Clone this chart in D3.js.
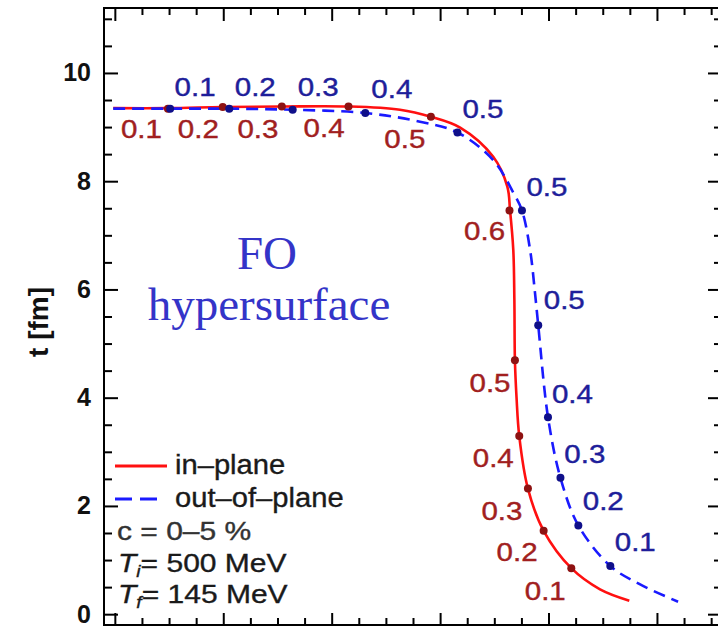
<!DOCTYPE html>
<html>
<head>
<meta charset="utf-8">
<script src="https://cdn.jsdelivr.net/npm/d3@7/dist/d3.min.js"></script>
<style>
  html, body { margin: 0; padding: 0; background: #fff; }
  svg { display: block; }
</style>
</head>
<body>
<svg id="chart" width="718" height="629"></svg>
<script>
// ---------------- data ----------------
// in-plane freeze-out curve (r [fm], t [fm])
const inPlaneR = [-0.03, 0.98, 1.99, 3.08, 4.31, 5.26, 5.83, 6.37, 6.98, 7.24, 7.29, 7.35, 7.37, 7.38, 7.41, 7.46, 7.62, 7.91, 8.42, 8.95, 9.49];
const inPlaneT = [9.35, 9.35, 9.37, 9.38, 9.38, 9.32, 9.19, 8.99, 8.45, 7.90, 7.46, 6.73, 5.81, 4.69, 4.00, 3.29, 2.32, 1.54, 0.85, 0.46, 0.25];
// out-of-plane freeze-out curve
const outPlaneR = [-0.03, 1.02, 2.11, 3.28, 4.62, 5.63, 6.32, 6.98, 7.35, 7.51, 7.66, 7.75, 7.81, 7.99, 8.22, 8.55, 9.14, 9.69, 10.39];
const outPlaneT = [9.34, 9.34, 9.34, 9.32, 9.26, 9.10, 8.90, 8.39, 7.79, 7.46, 6.73, 5.94, 5.34, 3.64, 2.52, 1.64, 0.89, 0.55, 0.23];

// marked points (flow velocity values) on each curve
const inMarkR = [0.98, 1.99, 3.08, 4.31, 5.83, 7.28, 7.38, 7.46, 7.62, 7.91, 8.42];
const inMarkT = [9.34, 9.37, 9.38, 9.38, 9.19, 7.46, 4.69, 3.29, 2.32, 1.54, 0.85];
const inMarkText = ["0.1", "0.2", "0.3", "0.4", "0.5", "0.6", "0.5", "0.4", "0.3", "0.2", "0.1"];
const inLabelR = [0.49, 1.54, 2.64, 3.86, 5.35, 6.82, 6.92, 6.98, 7.14, 7.42, 7.94];
const inLabelT = [8.95, 8.95, 8.95, 8.97, 8.78, 7.07, 4.26, 2.88, 1.90, 1.14, 0.42];

const outMarkR = [1.02, 2.11, 3.28, 4.62, 6.32, 7.51, 7.81, 7.99, 8.22, 8.55, 9.14];
const outMarkT = [9.34, 9.34, 9.32, 9.26, 8.90, 7.46, 5.34, 3.64, 2.52, 1.64, 0.89];
const outMarkText = ["0.1", "0.2", "0.3", "0.4", "0.5", "0.5", "0.5", "0.4", "0.3", "0.2", "0.1"];
const outLabelR = [1.48, 2.59, 3.75, 5.11, 6.79, 7.97, 8.29, 8.44, 8.67, 9.01, 9.60];
const outLabelT = [9.73, 9.73, 9.73, 9.69, 9.32, 7.88, 5.79, 4.06, 2.95, 2.08, 1.33];

const yTickValues = [0, 2, 4, 6, 8, 10];
const xTickValues = [0, 2, 4, 6, 8, 10];
const minorTickValues = d3.range(-0.0, 11.01, 0.5).filter(v => v % 2 !== 0);
const legendLabels = ["in\u2013plane", "out\u2013of\u2013plane"];
const axisTitle = "t [fm]";

// ---------------- layout ----------------
const svg = d3.select("#chart");
const L = 104, R = 722, T = 8, B = 625;
const x = d3.scaleLinear().domain([-0.2, 11.2]).range([L, R]);
const y = d3.scaleLinear().domain([-0.2, 11.2]).range([B, T]);

const RED = "#ff1010", BLUE = "#1a1aff";
const RED_DOT = "#8e1212", BLUE_DOT = "#0f0f8a";
const RED_LAB = "#a11f1f", BLUE_LAB = "#1e1e9a";
const FONT = "'Liberation Sans', Arial, Helvetica, sans-serif";

// ---------------- axes (ticks inside) ----------------
function styleAxis(g) {
  g.select(".domain").remove();
  g.selectAll(".tick line").attr("stroke", "#000").attr("stroke-width", 2);
}
// left
svg.append("g").attr("transform", `translate(${L},0)`)
  .call(d3.axisLeft(y).tickValues(yTickValues).tickSizeInner(-14).tickSizeOuter(0).tickPadding(13))
  .call(styleAxis)
  .call(g => g.selectAll("text").attr("font-family", FONT).attr("font-weight", "bold")
    .attr("font-size", 25).attr("fill", "#111"));
svg.append("g").attr("transform", `translate(${L},0)`)
  .call(d3.axisLeft(y).tickValues(minorTickValues).tickSizeInner(-8).tickSizeOuter(0).tickFormat(""))
  .call(styleAxis);
// right
svg.append("g").attr("transform", `translate(${R},0)`)
  .call(d3.axisRight(y).tickValues(yTickValues).tickSizeInner(-14).tickSizeOuter(0).tickFormat(""))
  .call(styleAxis);
svg.append("g").attr("transform", `translate(${R},0)`)
  .call(d3.axisRight(y).tickValues(minorTickValues).tickSizeInner(-8).tickSizeOuter(0).tickFormat(""))
  .call(styleAxis);
// bottom
svg.append("g").attr("transform", `translate(0,${B})`)
  .call(d3.axisBottom(x).tickValues(xTickValues).tickSizeInner(-12).tickSizeOuter(0).tickFormat(""))
  .call(styleAxis);
svg.append("g").attr("transform", `translate(0,${B})`)
  .call(d3.axisBottom(x).tickValues(minorTickValues).tickSizeInner(-7).tickSizeOuter(0).tickFormat(""))
  .call(styleAxis);
// top
svg.append("g").attr("transform", `translate(0,${T})`)
  .call(d3.axisTop(x).tickValues(xTickValues).tickSizeInner(-13).tickSizeOuter(0).tickFormat(""))
  .call(styleAxis);
svg.append("g").attr("transform", `translate(0,${T})`)
  .call(d3.axisTop(x).tickValues(minorTickValues).tickSizeInner(-7).tickSizeOuter(0).tickFormat(""))
  .call(styleAxis);

// frame
svg.append("rect").attr("x", L).attr("y", T).attr("width", R - L).attr("height", B - T)
  .attr("fill", "none").attr("stroke", "#000").attr("stroke-width", 2);

// y-axis title
svg.append("text")
  .attr("transform", `translate(38,${(y(5.4))}) rotate(-90)`)
  .attr("text-anchor", "middle").attr("dominant-baseline", "central")
  .attr("font-family", FONT).attr("font-weight", "bold").attr("font-size", 28)
  .attr("fill", "#111").text(axisTitle);

// ---------------- curves ----------------
const line = d3.line().x(d => x(d[0])).y(d => y(d[1])).curve(d3.curveCatmullRom.alpha(0.5));
const inPts = inPlaneR.map((r, i) => [r, inPlaneT[i]]);
const outPts = outPlaneR.map((r, i) => [r, outPlaneT[i]]);

svg.append("path").datum(inPts).attr("d", line)
  .attr("fill", "none").attr("stroke", RED).attr("stroke-width", 2.6);
svg.append("path").datum(outPts).attr("d", line)
  .attr("fill", "none").attr("stroke", BLUE).attr("stroke-width", 2.6)
  .attr("stroke-dasharray", "12,7");

// markers
svg.append("g").selectAll("circle").data(inMarkR).join("circle")
  .attr("cx", (d) => x(d)).attr("cy", (d, i) => y(inMarkT[i])).attr("r", 4).attr("fill", RED_DOT);
svg.append("g").selectAll("circle").data(outMarkR).join("circle")
  .attr("cx", (d) => x(d)).attr("cy", (d, i) => y(outMarkT[i])).attr("r", 4).attr("fill", BLUE_DOT);

// marker labels (horizontally stretched Helvetica look)
function numLabels(rs, ts, txt, color) {
  svg.append("g").selectAll("text").data(txt).join("text")
    .attr("transform", (d, i) => `translate(${x(rs[i])},${y(ts[i])}) scale(1.18,1)`)
    .attr("text-anchor", "middle").attr("dominant-baseline", "central")
    .attr("font-family", FONT).attr("font-size", 25).attr("fill", color)
    .attr("stroke", color).attr("stroke-width", 0.4)
    .text(d => d);
}
numLabels(inLabelR, inLabelT, inMarkText, RED_LAB);
numLabels(outLabelR, outLabelT, outMarkText, BLUE_LAB);

// ---------------- FO hypersurface annotation ----------------
const ann = svg.append("g").attr("font-family", "'Liberation Serif', 'Times New Roman', serif")
  .attr("font-size", 47).attr("fill", "#3434c8").attr("text-anchor", "middle");
ann.append("text").attr("x", 267).attr("y", 269).text("FO");
ann.append("text").attr("x", 269).attr("y", 320).text("hypersurface");

// ---------------- legend ----------------
const leg = svg.append("g").attr("font-family", FONT).attr("fill", "#1a1a1a")
  .attr("stroke", "#1a1a1a").attr("stroke-width", 0.35);
leg.append("line").attr("x1", 115).attr("x2", 167).attr("y1", 466).attr("y2", 466)
  .attr("stroke", RED).attr("stroke-width", 3);
leg.append("line").attr("x1", 115).attr("x2", 157).attr("y1", 499).attr("y2", 499)
  .attr("stroke", BLUE).attr("stroke-width", 3).attr("stroke-dasharray", "17,8");
leg.append("text").attr("transform", "translate(175,474) scale(1.08,1)")
  .attr("font-size", 27).text(legendLabels[0]);
leg.append("text").attr("transform", "translate(175,507) scale(1.08,1)")
  .attr("font-size", 27).text(legendLabels[1]);
leg.append("text").attr("transform", "translate(117,540) scale(1.2,1)")
  .attr("font-size", 25).attr("fill", "#333").attr("stroke", "#333").text("c = 0\u20135 %");
const t1 = leg.append("text").attr("transform", "translate(118,572) scale(1.2,1)").attr("font-size", 25);
t1.append("tspan").attr("font-style", "italic").text("T");
t1.append("tspan").attr("font-style", "italic").attr("font-size", 16).attr("dy", 5).text("i");
t1.append("tspan").attr("dy", -5).text("= 500 MeV");
const t2 = leg.append("text").attr("transform", "translate(118,603) scale(1.2,1)").attr("font-size", 25);
t2.append("tspan").attr("font-style", "italic").text("T");
t2.append("tspan").attr("font-style", "italic").attr("font-size", 16).attr("dy", 5).text("f");
t2.append("tspan").attr("dy", -5).text("= 145 MeV");
</script>
</body>
</html>
